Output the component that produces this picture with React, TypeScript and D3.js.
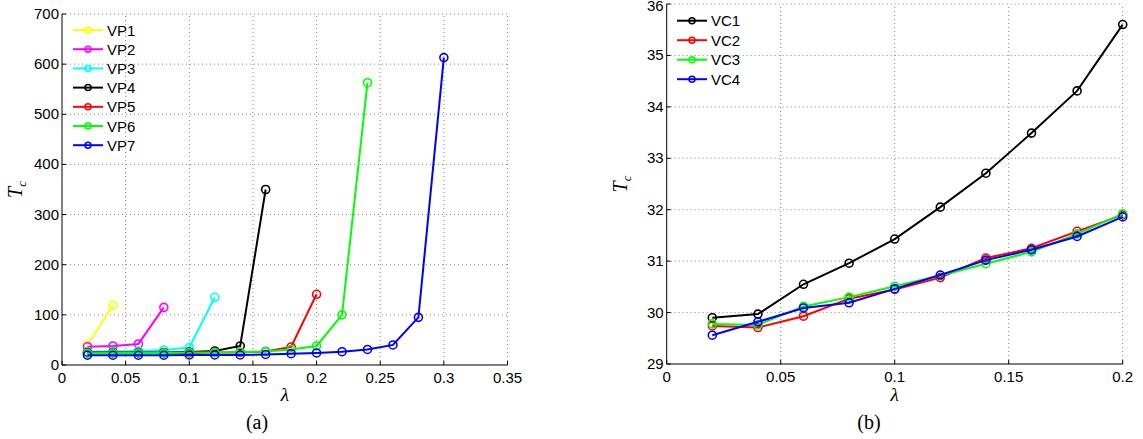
import * as d3 from 'd3';

// lambda grid shared by the VP series (each series stops earlier)
const lambdaP = [0.02, 0.04, 0.06, 0.08, 0.1, 0.12, 0.14, 0.16, 0.18, 0.2, 0.22, 0.24, 0.26, 0.28, 0.3];
const vp1 = [40, 119];
const vp2 = [36.5, 38, 42, 115];
const vp3 = [27, 27, 28, 30, 35, 135];
const vp4 = [25, 25, 25, 25, 26, 28, 38, 350];
const vp5 = [24, 24, 24, 24, 24, 25, 25, 27, 36, 141];
const vp6 = [23.5, 24, 24, 24, 25, 25, 26, 27, 31, 38, 100, 563];
const vp7 = [19.5, 19.5, 19.5, 19.5, 20, 20, 20, 21, 22.5, 24, 26.5, 31, 40, 95, 613];

const lambdaC = [0.02, 0.04, 0.06, 0.08, 0.1, 0.12, 0.14, 0.16, 0.18, 0.2];
const vc1 = [29.9, 29.97, 30.55, 30.96, 31.43, 32.05, 32.71, 33.49, 34.31, 35.6];
const vc2 = [29.74, 29.71, 29.93, 30.27, 30.45, 30.68, 31.06, 31.25, 31.58, 31.9];
const vc3 = [29.78, 29.76, 30.12, 30.3, 30.51, 30.72, 30.95, 31.18, 31.53, 31.92];
const vc4 = [29.56, 29.82, 30.09, 30.19, 30.46, 30.73, 31.02, 31.22, 31.48, 31.86];

const xTicksA = [0, 0.05, 0.1, 0.15, 0.2, 0.25, 0.3, 0.35];
const yTicksA = [0, 100, 200, 300, 400, 500, 600, 700];
const xTicksB = [0, 0.05, 0.1, 0.15, 0.2];
const yTicksB = [29, 30, 31, 32, 33, 34, 35, 36];

const seriesA = [
  { name: 'VP1', color: '#ffff00', values: vp1 },
  { name: 'VP2', color: '#ff00ff', values: vp2 },
  { name: 'VP3', color: '#00ffff', values: vp3 },
  { name: 'VP4', color: '#000000', values: vp4 },
  { name: 'VP5', color: '#ff0000', values: vp5 },
  { name: 'VP6', color: '#00ff00', values: vp6 },
  { name: 'VP7', color: '#0000ff', values: vp7 },
];
const seriesB = [
  { name: 'VC1', color: '#000000', values: vc1 },
  { name: 'VC2', color: '#ff0000', values: vc2 },
  { name: 'VC3', color: '#00ff00', values: vc3 },
  { name: 'VC4', color: '#0000ff', values: vc4 },
];

const sans = "'Liberation Sans', Arial, sans-serif";
const serif = "'Liberation Serif', 'DejaVu Serif', serif";

type Series = { name: string; color: string; values: number[] };

const fmt = (v: number) => String(+v.toFixed(2));

function Panel({ x, y, xTicks, yTicks, series, lambdas, legendX, legendY, legendStep, caption, captionX }: {
  x: d3.ScaleLinear<number, number>; y: d3.ScaleLinear<number, number>;
  xTicks: number[]; yTicks: number[]; series: Series[]; lambdas: number[];
  legendX: number; legendY: number; legendStep: number; caption: string; captionX: number;
}) {
  const [x0, x1] = x.range();
  const [y0, y1] = y.range();
  const line = d3.line<number>().x((_, i) => x(lambdas[i])).y(d => y(d));
  const midX = (x0 + x1) / 2;
  const midY = (y0 + y1) / 2;
  return (
    <g>
      {/* dotted grid */}
      {xTicks.slice(1).map(t => (
        <line key={'gx' + t} x1={x(t)} x2={x(t)} y1={y0} y2={y1} stroke="#888" strokeWidth={1} strokeDasharray="1,3" />
      ))}
      {yTicks.slice(1).map(t => (
        <line key={'gy' + t} x1={x0} x2={x1} y1={y(t)} y2={y(t)} stroke="#888" strokeWidth={1} strokeDasharray="1,3" />
      ))}
      {/* axes */}
      <line x1={x0} x2={x1} y1={y0} y2={y0} stroke="#000" strokeWidth={1} />
      <line x1={x0} x2={x0} y1={y0} y2={y1} stroke="#000" strokeWidth={1} />
      {xTicks.map(t => (
        <g key={'tx' + t}>
          <line x1={x(t)} x2={x(t)} y1={y0} y2={y0 - 4} stroke="#000" />
          <text x={x(t)} y={y0 + 18} textAnchor="middle" fontFamily={sans} fontSize={15}>{fmt(t)}</text>
        </g>
      ))}
      {yTicks.map(t => (
        <g key={'ty' + t}>
          <line x1={x0} x2={x0 + 4} y1={y(t)} y2={y(t)} stroke="#000" />
          <text x={x0 - 3} y={Math.max(y(t) + 5, 11)} textAnchor="end" fontFamily={sans} fontSize={15}>{fmt(t)}</text>
        </g>
      ))}
      {/* data */}
      {series.map(s => (
        <g key={s.name}>
          <path d={line(s.values) ?? ''} fill="none" stroke={s.color} strokeWidth={2} />
          {s.values.map((v, i) => (
            <circle key={i} cx={x(lambdas[i])} cy={y(v)} r={4} fill="none" stroke={s.color} strokeWidth={1.6} />
          ))}
        </g>
      ))}
      {/* legend */}
      {series.map((s, i) => {
        const ly = legendY + i * legendStep;
        return (
          <g key={'lg' + s.name}>
            <line x1={legendX} x2={legendX + 30} y1={ly} y2={ly} stroke={s.color} strokeWidth={2} />
            <circle cx={legendX + 15} cy={ly} r={3} fill="none" stroke={s.color} strokeWidth={1.5} />
            <text x={legendX + 34} y={ly + 5.5} fontFamily={sans} fontSize={15}>{s.name}</text>
          </g>
        );
      })}
      {/* axis labels */}
      <text x={midX} y={401} textAnchor="middle" fontFamily={serif} fontStyle="italic" fontSize={19}>λ</text>
      <text transform={`translate(${x0 - 40},${midY}) rotate(-90)`} textAnchor="middle" fontFamily={serif} fontSize={20}>
        <tspan fontStyle="italic">T</tspan><tspan fontStyle="italic" fontSize={13} dy={4}>c</tspan>
      </text>
      <text x={captionX} y={429} textAnchor="middle" fontFamily={serif} fontSize={20}>{caption}</text>
    </g>
  );
}

export default function App() {
  const xA = d3.scaleLinear().domain([0, 0.35]).range([62, 507.5]);
  const yA = d3.scaleLinear().domain([0, 700]).range([365, 14]);
  const xB = d3.scaleLinear().domain([0, 0.2]).range([666.7, 1122.7]);
  const yB = d3.scaleLinear().domain([29, 36]).range([364, 4]);
  return (
    <svg width={1143} height={439} style={{ position: 'absolute', left: 0, top: 0, background: '#fff' }}>
      <Panel x={xA} y={yA} xTicks={xTicksA} yTicks={yTicksA} series={seriesA} lambdas={lambdaP}
        legendX={73} legendY={30} legendStep={19.2} caption="(a)" captionX={257} />
      <Panel x={xB} y={yB} xTicks={xTicksB} yTicks={yTicksB} series={seriesB} lambdas={lambdaC}
        legendX={677} legendY={20.7} legendStep={19.5} caption="(b)" captionX={869} />
    </svg>
  );
}
